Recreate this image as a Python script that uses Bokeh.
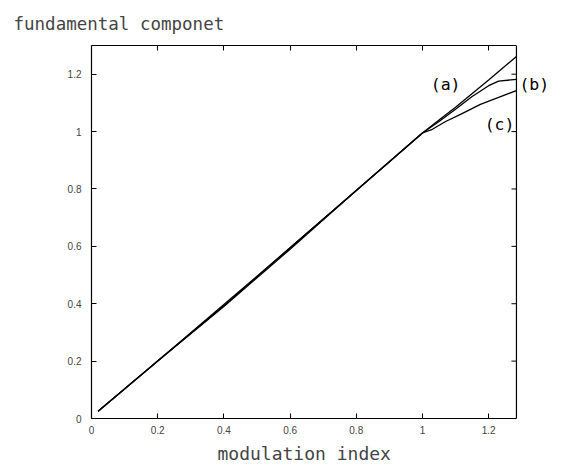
from bokeh.plotting import figure
from bokeh.models import Range1d, LinearAxis, FixedTicker, CustomJSTickFormatter, Label, Span, Title
from bokeh.embed import file_html
from bokeh.resources import INLINE

# data
x_a = [0.02, 0.2, 0.4, 0.6, 0.8, 1.0, 1.05, 1.1, 1.2, 1.284]
y_a = [0.025, 0.2, 0.397, 0.595, 0.795, 0.995, 1.04, 1.085, 1.18, 1.262]
x_b = [0.02, 0.2, 0.4, 0.6, 0.8, 1.0, 1.05, 1.1, 1.15, 1.2, 1.23, 1.284]
y_b = [0.025, 0.2, 0.393, 0.595, 0.795, 0.995, 1.035, 1.078, 1.122, 1.16, 1.176, 1.182]
x_c = [0.02, 0.2, 0.4, 0.6, 0.8, 1.0, 1.03, 1.07, 1.115, 1.175, 1.236, 1.284]
y_c = [0.025, 0.2, 0.39, 0.59, 0.795, 0.995, 1.008, 1.035, 1.06, 1.095, 1.122, 1.143]
curve_names = ["(a)", "(b)", "(c)"]
label_x = [1.07, 1.338, 1.233]
label_y = [1.165, 1.165, 1.025]
tick_values = [0, 0.2, 0.4, 0.6, 0.8, 1.0, 1.2]
x_end = 1.284          # right end of the x axis
y_end = 1.30           # top end of the y axis
title_text = "fundamental componet"
x_title = "modulation index"

MONO = "DejaVu Sans Mono"
SANS = "Liberation Sans"

# frame extends past the x-axis end so the "(b)" label can sit outside the box
X_VIEW = 1.405
p = figure(width=561, height=468, output_backend="svg", toolbar_location=None,
           x_range=Range1d(0, X_VIEW), y_range=Range1d(0, y_end),
           min_border_left=91, min_border_right=5, min_border_top=45, min_border_bottom=50)
p.xgrid.visible = False
p.ygrid.visible = False
p.outline_line_color = None
p.background_fill_color = "white"
p.border_fill_color = "white"

p.title.text = title_text
p.title.align = "left"
p.title.offset = -78
p.title.text_font = MONO
p.title.text_font_size = "17.5px"
p.title.text_font_style = "normal"
p.title.vertical_align = "bottom"
p.title.standoff = 23

fmt = CustomJSTickFormatter(code="return Number(tick.toFixed(2)).toString();")

for ax in (p.xaxis[0], p.yaxis[0]):
    ax.ticker = FixedTicker(ticks=tick_values)
    ax.formatter = fmt
    ax.major_tick_in = 5
    ax.major_tick_out = 0
    ax.minor_tick_line_color = None
    ax.major_label_text_font = SANS
    ax.major_label_text_font_size = "10px"
    ax.axis_line_width = 1.2
    ax.axis_line_color = "black"
    ax.major_tick_line_color = "black"

p.xaxis[0].bounds = (0, x_end)
p.yaxis[0].major_label_standoff = 10
p.xaxis[0].major_label_standoff = 7

# x-axis title, centred under the box (not under the wider frame)
p.add_layout(Title(text=x_title, align="left", offset=126, text_font=MONO,
                   text_font_size="18px", text_font_style="normal", standoff=9), "below")

top = LinearAxis(ticker=FixedTicker(ticks=tick_values), major_tick_in=5, major_tick_out=0,
                 minor_tick_line_color=None, major_label_text_color=None,
                 major_label_text_font_size="1px", major_label_standoff=0,
                 axis_line_width=1.2, bounds=(0, x_end))
p.add_layout(top, "above")

# right border of the box and its inward ticks
p.add_layout(Span(location=x_end, dimension="height", line_color="black", line_width=1.2))
tick_len = 5 / 331.0
p.segment(x0=[x_end - tick_len] * len(tick_values), y0=tick_values,
          x1=[x_end] * len(tick_values), y1=tick_values, line_color="black", line_width=1)

for xs, ys in ((x_a, y_a), (x_b, y_b), (x_c, y_c)):
    p.line(xs, ys, line_color="black", line_width=1.3)

for name, lx, ly in zip(curve_names, label_x, label_y):
    p.add_layout(Label(x=lx, y=ly, text=name, text_font=MONO, text_font_size="16.5px",
                       text_align="center", text_baseline="middle", text_color="black"))

open("out.html", "w").write(file_html(p, INLINE))
